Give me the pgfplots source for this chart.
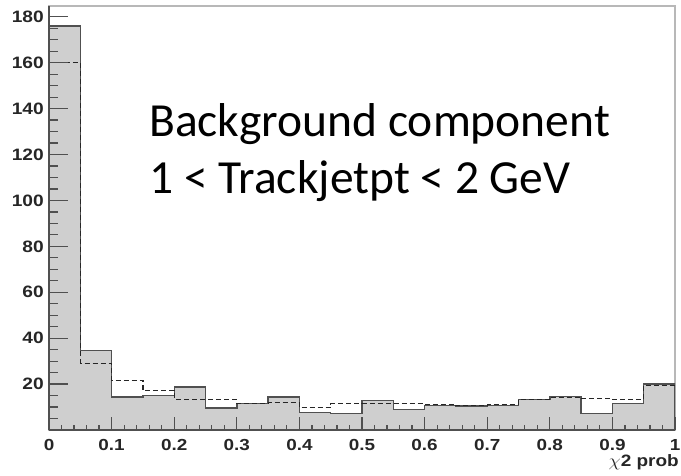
\documentclass[border=0pt]{standalone}
\usepackage{fontspec}
\usepackage{pgfplots}
\pgfplotsset{compat=1.18}
\newfontfamily\rootfont{Liberation Sans}
\newfontfamily\calfont{Carlito}
\definecolor{histfill}{HTML}{CFCFCF}
\definecolor{histline}{HTML}{505050}
\definecolor{framegray}{HTML}{B8B8B8}

\begin{document}
\begin{tikzpicture}
\useasboundingbox (-49pt,-46pt) rectangle (632pt,430pt);
\draw[framegray, line width=1.2pt] (0,0) rectangle (626pt,424pt);
\begin{axis}[
  scale only axis,
  width=626pt, height=424pt,
  at={(0,0)}, anchor=south west,
  xmin=0, xmax=1, ymin=0, ymax=184.7,
  axis lines=left,
  axis line style={-, draw=histline, line width=1.3pt},
  axis on top,
  tick align=inside,
  xtick={0,0.1,0.2,0.3,0.4,0.5,0.6,0.7,0.8,0.9,1},
  minor x tick num=4,
  ytick={20,40,60,80,100,120,140,160,180},
  minor ytick={5,10,15,25,30,35,45,50,55,65,70,75,85,90,95,105,110,115,125,130,135,145,150,155,165,170,175},
  major tick length=19pt, minor tick length=9pt,
  xtick style={/pgfplots/major tick length=13pt, /pgfplots/minor tick length=5pt},
  tick style={draw=histline, line width=1.2pt},
  /pgf/number format/assume math mode=true,
  yticklabel style={font=\rootfont\bfseries\fontsize{16.5}{16.5}\selectfont, text=black!85,
    inner sep=0pt, xshift=-5pt, xscale=1.16},
  xticklabel style={font=\rootfont\bfseries\fontsize{16}{16}\selectfont, text=black!85,
    inner sep=0pt, anchor=north, yshift=-9pt, xscale=1.18},
  xlabel={$\chi$2 prob},
  xlabel style={at={(axis description cs:1,0)}, anchor=base east, inner sep=0pt,
    xshift=4pt, yshift=-36.5pt, font=\rootfont\bfseries\fontsize{16.5}{16.5}\selectfont,
    text=black!85, xscale=1.15},
]
% background component, grey histogram
\addplot[const plot, fill=histfill, draw=histline, line width=1.4pt] coordinates {
  (0.00,176.0) (0.05,34.6) (0.10,14.4) (0.15,15.0) (0.20,18.8)
  (0.25,9.6)   (0.30,11.5) (0.35,14.4) (0.40,7.7)  (0.45,7.3)
  (0.50,12.8)  (0.55,9.0)  (0.60,10.8) (0.65,10.5) (0.70,10.8)
  (0.75,13.4)  (0.80,14.6) (0.85,7.1)  (0.90,11.5) (0.95,20.0)
  (1.00,20.0)
} \closedcycle;
% dashed reference histogram
\addplot[const plot, draw=black!85, dash pattern=on 5pt off 3pt, line width=1.2pt] coordinates {
  (0.00,160.0) (0.05,29.1) (0.10,21.7) (0.15,17.3) (0.20,13.4)
  (0.25,13.4)  (0.30,11.5) (0.35,12.1) (0.40,9.9)  (0.45,11.5)
  (0.50,11.4)  (0.55,11.5) (0.60,11.2) (0.65,10.5) (0.70,11.2)
  (0.75,13.3)  (0.80,14.3) (0.85,13.7) (0.90,13.3) (0.95,19.5)
  (1.00,19.5)
};
\end{axis}
\node[anchor=base west, inner sep=0pt, font=\calfont\fontsize{47.5}{47.5}\selectfont]
  at (100pt,293.3pt) {Background component};
\node[anchor=base west, inner sep=0pt, font=\calfont\fontsize{47.5}{47.5}\selectfont]
  at (100pt,236.7pt) {1 < Trackjetpt < 2 GeV};
\end{tikzpicture}
\end{document}
